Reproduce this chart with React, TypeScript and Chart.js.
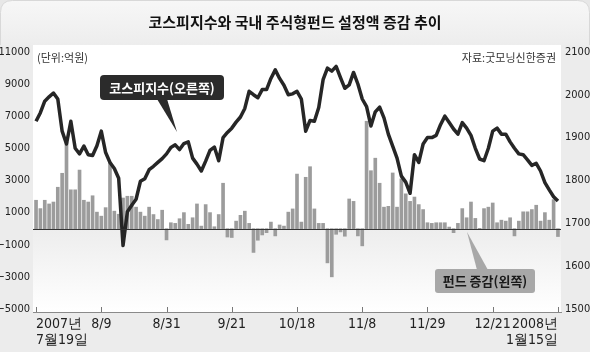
import React, { useEffect, useRef } from "react";
import { Chart, registerables } from "chart.js";

Chart.register(...registerables);

const titleText = "코스피지수와 국내 주식형펀드 설정액 증감 추이";
const unitText = "(단위:억원)";
const sourceText = "자료:굿모닝신한증권";
const lineLabel = "코스피지수(오른쪽)";
const barLabel = "펀드 증감(왼쪽)";

const xTickLabels: (string | string[])[] = [
  ["2007년", "7월19일"], "8/9", "8/31", "9/21", "10/18", "11/8", "11/29", "12/21", ["2008년", "1월15일"],
];
const xTickStep = 15;

const leftTicks = [11000, 9000, 7000, 5000, 3000, 1000, -1000, -3000, -5000];
const rightTicks = [2100, 2000, 1900, 1800, 1700, 1600, 1500];

const kospi = [
  1938, 1958, 1985, 1995, 2004, 1990, 1915, 1885, 1938, 1875,
  1862, 1880, 1860, 1858, 1881, 1915, 1865, 1842, 1828, 1805,
  1648, 1727, 1742, 1756, 1798, 1804, 1825, 1833, 1842, 1851,
  1862, 1877, 1883, 1872, 1886, 1890, 1852, 1838, 1822, 1845,
  1870, 1878, 1846, 1900, 1912, 1922, 1936, 1948, 1968, 2008,
  2000, 1993, 2012, 2012, 2038, 2058, 2038, 2022, 2000, 2002,
  2008, 1990, 1915, 1940, 1938, 1970, 2035, 2062, 2055, 2066,
  2040, 2015, 2023, 2052, 2025, 1990, 1972, 1927, 1960, 1971,
  1946, 1908, 1880, 1852, 1810, 1796, 1770, 1860, 1842, 1885,
  1900, 1900, 1905, 1930, 1950, 1935, 1920, 1908, 1935, 1922,
  1905, 1875, 1850, 1846, 1875, 1915, 1922, 1908, 1908, 1890,
  1875, 1862, 1860, 1848, 1835, 1840, 1822, 1795, 1778, 1762,
  1752,
];

const fundFlow = [
  1770, 1250, 1770, 1540, 1660, 2580, 3450, 5400, 2420, 2420,
  3650, 1770, 1660, 2050, 1030, 780, 1310, 4160, 1090, 900,
  1910, 2020, 2020, 1340, 1030, 780, 1340, 880, 570, 1150,
  -700, 370, 330, 620, 1000, 270, 680, 1540, 160, 1500,
  1000, 120, 880, 2830, -520, -550, 470, 830, 1090, 330,
  -1480, -720, -390, -250, 410, -450, 230, 160, 1030, 1230,
  3400, 410, 3200, 3860, 1230, 330, 330, -2130, -3000, -350,
  -200, -470, 1850, 1700, -450, -1070, 6690, 3610, 4390, 2830,
  1340, 1390, 3470, 1340, 3100, 2170, 1700, 1970, 1500, 1190,
  370, 330, 370, 370, 370, 100, -250, 330, 1250, 680,
  1660, 640, 20, 1250, 1340, 1600, 370, 530, 470, 680,
  -450, 470, 1050, 1050, 1190, 1460, 470, 1000, 530, 1810,
  -490,
];

const NARROW = "'Liberation Sans Narrow', 'DejaVu Sans Condensed', 'Liberation Sans', sans-serif";
const KR = "'Noto Sans CJK KR', 'Noto Sans', sans-serif";

function roundRect(ctx: CanvasRenderingContext2D, x: number, y: number, w: number, h: number, r: number) {
  ctx.beginPath();
  ctx.moveTo(x + r, y);
  ctx.lineTo(x + w - r, y);
  ctx.quadraticCurveTo(x + w, y, x + w, y + r);
  ctx.lineTo(x + w, y + h - r);
  ctx.quadraticCurveTo(x + w, y + h, x + w - r, y + h);
  ctx.lineTo(x + r, y + h);
  ctx.quadraticCurveTo(x, y + h, x, y + h - r);
  ctx.lineTo(x, y + r);
  ctx.quadraticCurveTo(x, y, x + r, y);
  ctx.closePath();
}

const decorPlugin = {
  id: "decor",
  beforeDraw(chart: any) {
    const { ctx, chartArea: a, width, height } = chart;
    ctx.save();
    ctx.fillStyle = "#e7e7e7";
    ctx.fillRect(0, 0, width, height);
    const tg = ctx.createLinearGradient(0, 0, 0, 45);
    tg.addColorStop(0, "#f7f7f7");
    tg.addColorStop(1, "#ededed");
    ctx.fillStyle = tg;
    roundRect(ctx, 0.5, 0.5, width - 1, 60, 12);
    ctx.fill();
    ctx.strokeStyle = "#d8d8d8";
    ctx.lineWidth = 1;
    ctx.stroke();
    ctx.fillStyle = "#ececec";
    ctx.fillRect(0, a.top, width, height - a.top);
    ctx.fillStyle = "#ffffff";
    ctx.fillRect(a.left, a.top, a.right - a.left, a.bottom - a.top);
    const z = chart.scales.y.getPixelForValue(0);
    const g = ctx.createLinearGradient(0, z, 0, a.bottom);
    g.addColorStop(0, "#ededed");
    g.addColorStop(1, "#ffffff");
    ctx.fillStyle = g;
    ctx.fillRect(a.left, z, a.right - a.left, a.bottom - z);
    ctx.restore();
  },
  afterDatasetsDraw(chart: any) {
    const { ctx, chartArea: a, width } = chart;
    ctx.save();
    const z = chart.scales.y.getPixelForValue(0);
    ctx.strokeStyle = "#333";
    ctx.lineWidth = 1;
    ctx.beginPath();
    ctx.moveTo(a.left, Math.round(z) + 0.5);
    ctx.lineTo(a.right, Math.round(z) + 0.5);
    ctx.stroke();
    const xs = chart.scales.x;
    ctx.strokeStyle = "#777";
    xTickLabels.forEach((_, k) => {
      const px = Math.round(xs.getPixelForValue(k * xTickStep)) + 0.5;
      ctx.beginPath();
      ctx.moveTo(px, a.bottom - 5);
      ctx.lineTo(px, a.bottom);
      ctx.stroke();
    });
    ctx.fillStyle = "#111";
    ctx.font = `bold 15px ${KR}`;
    ctx.textAlign = "center";
    ctx.textBaseline = "middle";
    ctx.fillText(titleText, width / 2, 22);
    ctx.font = `11px ${KR}`;
    ctx.fillStyle = "#333";
    ctx.textAlign = "left";
    ctx.fillText(unitText, a.left + 4, 58);
    ctx.textAlign = "right";
    ctx.fillText(sourceText, a.right - 5, 58);
    ctx.fillStyle = "#2b2b2b";
    ctx.beginPath();
    ctx.moveTo(157, 99);
    ctx.lineTo(167, 99);
    ctx.lineTo(177, 132);
    ctx.closePath();
    ctx.fill();
    roundRect(ctx, 100, 75, 124, 25, 4);
    ctx.fill();
    ctx.fillStyle = "#ffffff";
    ctx.font = `bold 13px ${KR}`;
    ctx.textAlign = "center";
    ctx.fillText(lineLabel, 162, 88);
    ctx.fillStyle = "#a8a8a8";
    ctx.beginPath();
    ctx.moveTo(477, 270);
    ctx.lineTo(488, 270);
    ctx.lineTo(467, 232);
    ctx.closePath();
    ctx.fill();
    roundRect(ctx, 435, 269, 100, 24, 3);
    ctx.fill();
    ctx.fillStyle = "#1a1a1a";
    ctx.font = `bold 13px ${KR}`;
    ctx.fillText(barLabel, 485, 281.5);
    ctx.restore();
  },
};

export default function App() {
  const ref = useRef<HTMLCanvasElement | null>(null);
  useEffect(() => {
    document.body.style.margin = "0";
    const canvas = ref.current;
    if (!canvas) return;
    const lineData = kospi.map((v, i) => ({ x: i, y: v }));
    const barData = fundFlow.map((v, i) => ({ x: i, y: v }));
    const chart = new Chart(canvas, {
      type: "bar",
      data: {
        datasets: [
          {
            type: "line",
            label: lineLabel,
            data: lineData,
            yAxisID: "y1",
            borderColor: "#262626",
            borderWidth: 3.5,
            pointRadius: 0,
            tension: 0,
            borderJoinStyle: "round",
            order: 0,
          } as any,
          {
            type: "bar",
            label: barLabel,
            data: barData,
            yAxisID: "y",
            backgroundColor: "#9c9c9c",
            barThickness: 3,
            order: 1,
          } as any,
        ],
      },
      plugins: [decorPlugin],
      options: {
        animation: false,
        responsive: false,
        maintainAspectRatio: false,
        devicePixelRatio: 1,
        layout: { padding: { top: 45, left: 0, right: 0, bottom: 0 } },
        plugins: { legend: { display: false }, tooltip: { enabled: false }, title: { display: false } },
        scales: {
          x: {
            type: "linear",
            offset: false,
            min: -0.7,
            max: kospi.length - 1 + 0.7,
            grid: { display: false, drawTicks: false, offset: false },
            border: { display: true, color: "#8a8a8a", width: 1 },
            afterBuildTicks: (s: any) => {
              s.ticks = xTickLabels.map((_, k) => ({ value: k * xTickStep }));
            },
            afterFit: (s: any) => {
              s.height = 40;
            },
            ticks: {
              autoSkip: false,
              maxRotation: 0,
              align: "inner",
              padding: 4,
              color: "#222",
              font: { family: NARROW, size: 14, lineHeight: 1.15 },
              callback: (v: any) => xTickLabels[Math.round(Number(v) / xTickStep)] ?? "",
            },
          },
          y: {
            type: "linear",
            position: "left",
            min: -5190,
            max: 11440,
            grid: { display: false, drawTicks: false },
            border: { display: false },
            afterBuildTicks: (s: any) => {
              s.ticks = leftTicks.map((v) => ({ value: v }));
            },
            afterFit: (s: any) => {
              s.width = 33;
            },
            ticks: {
              padding: 3,
              color: "#222",
              font: { family: NARROW, size: 11 },
              callback: (v: any) => (Number(v) < 0 ? "−" + Math.abs(Number(v)) : String(v)),
            },
          },
          y1: {
            type: "linear",
            position: "right",
            min: 1493,
            max: 2116,
            grid: { display: false, drawTicks: false },
            border: { display: false },
            afterBuildTicks: (s: any) => {
              s.ticks = rightTicks.map((v) => ({ value: v }));
            },
            afterFit: (s: any) => {
              s.width = 29;
            },
            ticks: {
              padding: 4,
              color: "#222",
              font: { family: NARROW, size: 11 },
              callback: (v: any) => String(v),
            },
          },
        },
      } as any,
    });
    return () => chart.destroy();
  }, []);
  return (
    <div style={{ width: 590, height: 352 }}>
      <canvas ref={ref} width={590} height={352} style={{ display: "block" }} />
    </div>
  );
}
